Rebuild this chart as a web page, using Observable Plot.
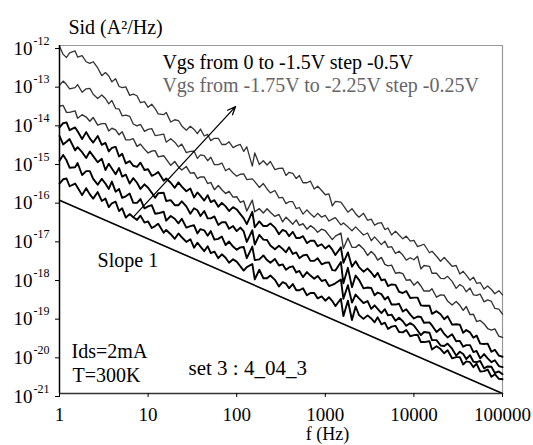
<!DOCTYPE html>
<html><head><meta charset="utf-8">
<script src="https://cdn.jsdelivr.net/npm/d3@7"></script>
<script src="https://cdn.jsdelivr.net/npm/@observablehq/plot@0.6"></script>
<style>html,body{margin:0;padding:0;background:#fff}</style>
</head><body><div id="chart"></div>
<script>
// Frequencies (Hz)
const freq = [
1,1.1,1.2,1.3,1.5,1.6,1.8,2,2.2,2.4,2.7,3,3.3,3.6,3.9,4.3,4.7,5.1,5.6,6.2,6.8,7.5,8.2,9.1,
10,11,12,13,15,16,18,20,22,24,27,30,33,36,39,43,47,51,56,62,68,75,82,91,
100,110,120,130,150,160,180,200,220,240,270,300,330,360,390,430,470,510,560,620,680,750,820,910,
1000,1100,1200,1300,1500,1600,1800,2000,2200,2400,2700,3000,3300,3600,3900,4300,4700,5100,5600,6200,6800,7500,8200,9100,
10000,11000,12000,13000,15000,16000,18000,20000,22000,24000,27000,30000,33000,36000,39000,43000,47000,51000,56000,62000,68000,75000,82000,91000,
100000];

// Sid spectra, log10(A^2/Hz) (top to bottom)
const sid1 = [
-12.02,-12.23,-12.31,-12.19,-12.14,-12.30,-12.26,-12.42,-12.46,-12.42,-12.58,-12.78,-12.70,-12.79,-12.94,-12.86,-13.06,-13.09,-13.07,-13.29,-13.26,-13.30,-13.48,-13.45,
-13.60,-13.52,-13.63,-13.77,-13.79,-13.73,-13.98,-13.92,-13.94,-14.08,-14.19,-14.09,-14.17,-14.28,-14.16,-14.34,-14.30,-14.46,-14.40,-14.40,-14.56,-14.56,-14.49,-14.64,
-14.59,-14.56,-14.74,-14.62,-15.12,-14.78,-15.08,-14.98,-15.09,-15.00,-15.21,-15.18,-15.17,-15.36,-15.28,-15.31,-15.44,-15.36,-15.55,-15.55,-15.51,-15.71,-15.64,-15.75,
-15.86,-15.84,-16.15,-16.03,-16.05,-16.14,-16.31,-16.22,-16.35,-16.44,-16.34,-16.52,-16.49,-16.65,-16.60,-16.58,-16.76,-16.72,-16.90,-16.80,-16.90,-17.00,-16.93,-17.06,
-17.04,-17.20,-17.17,-17.14,-17.36,-17.32,-17.45,-17.58,-17.48,-17.58,-17.71,-17.69,-17.91,-17.84,-17.94,-18.07,-17.99,-18.15,-18.13,-18.30,-18.22,-18.31,-18.42,-18.34,
-18.45];
const sid2 = [
-13.03,-12.92,-13.01,-13.12,-13.09,-13.01,-13.21,-13.12,-13.11,-13.26,-13.37,-13.28,-13.37,-13.51,-13.42,-13.63,-13.64,-13.82,-13.80,-13.83,-14.03,-14.08,-14.04,-14.22,
-14.17,-14.15,-14.33,-14.32,-14.29,-14.50,-14.41,-14.50,-14.62,-14.55,-14.77,-14.74,-14.73,-14.92,-14.83,-14.85,-14.98,-14.89,-15.08,-15.08,-15.04,-15.24,-15.18,-15.30,
-15.38,-15.33,-15.32,-15.47,-15.45,-15.52,-15.67,-15.57,-15.71,-15.81,-15.75,-15.94,-15.93,-16.09,-16.04,-16.04,-16.22,-16.19,-16.36,-16.25,-16.35,-16.44,-16.34,-16.44,
-16.39,-16.54,-16.49,-16.45,-16.64,-16.59,-16.69,-16.79,-16.69,-16.78,-16.90,-16.85,-17.05,-16.95,-17.04,-17.15,-17.06,-17.22,-17.20,-17.38,-17.32,-17.42,-17.55,-17.49,
-17.54,-17.45,-17.78,-17.69,-17.71,-17.89,-17.89,-18.02,-18.03,-17.97,-18.10,-18.28,-18.18,-18.24,-18.37,-18.27,-18.45,-18.46,-18.43,-18.63,-18.58,-18.62,-18.80,-18.82,
-18.95];
const sid3 = [
-13.57,-13.55,-13.73,-13.73,-13.69,-13.88,-13.79,-13.85,-13.96,-13.86,-14.06,-14.02,-14.02,-14.21,-14.14,-14.18,-14.31,-14.23,-14.44,-14.44,-14.41,-14.61,-14.55,-14.68,
-14.78,-14.73,-14.72,-14.88,-14.85,-14.94,-15.10,-15.00,-15.14,-15.22,-15.13,-15.30,-15.29,-15.44,-15.40,-15.40,-15.57,-15.54,-15.73,-15.62,-15.73,-15.83,-15.77,-15.92,
-15.91,-16.06,-16.02,-16.28,-16.00,-16.30,-16.22,-16.33,-16.22,-16.31,-16.42,-16.37,-16.56,-16.44,-16.52,-16.62,-16.51,-16.65,-16.61,-16.75,-16.66,-16.73,-16.83,-16.75,
-16.79,-16.91,-17.02,-16.93,-16.85,-17.25,-16.98,-17.22,-17.22,-17.15,-17.26,-17.43,-17.33,-17.41,-17.55,-17.48,-17.66,-17.70,-17.68,-17.89,-17.87,-17.90,-18.07,-18.06,
-18.20,-18.11,-18.22,-18.35,-18.35,-18.29,-18.51,-18.45,-18.46,-18.61,-18.71,-18.62,-18.72,-18.85,-18.75,-18.96,-18.95,-19.14,-19.11,-19.20,-19.32,-19.36,-19.33,-19.52,
-19.55];
const sid4 = [
-14.12,-14.01,-13.99,-14.19,-14.12,-14.22,-14.42,-14.24,-14.40,-14.51,-14.34,-14.57,-14.52,-14.74,-14.65,-14.62,-14.87,-14.80,-15.05,-14.99,-15.11,-15.14,-15.03,-15.22,
-15.20,-15.37,-15.33,-15.27,-15.50,-15.44,-15.55,-15.68,-15.54,-15.65,-15.77,-15.70,-15.93,-15.80,-15.89,-16.01,-15.87,-16.05,-16.00,-16.17,-16.07,-16.16,-16.28,-16.18,
-16.24,-16.36,-16.47,-16.62,-16.30,-16.70,-16.55,-16.67,-16.67,-16.60,-16.71,-16.88,-16.77,-16.81,-16.93,-16.82,-16.98,-16.98,-16.93,-17.11,-17.05,-17.05,-17.19,-17.14,
-17.25,-17.17,-17.28,-17.42,-17.22,-17.62,-17.35,-17.72,-17.58,-17.73,-17.85,-17.77,-17.87,-17.99,-17.88,-18.07,-18.05,-18.22,-18.18,-18.19,-18.37,-18.40,-18.35,-18.53,
-18.52,-18.52,-18.72,-18.73,-18.73,-18.94,-18.87,-18.95,-19.08,-19.00,-19.22,-19.21,-19.22,-19.43,-19.36,-19.42,-19.56,-19.50,-19.71,-19.72,-19.71,-19.92,-19.87,-20.02,
-20.05];
const sid5 = [
-14.34,-14.56,-14.49,-14.42,-14.71,-14.63,-14.76,-14.91,-14.74,-14.86,-15.02,-14.93,-15.22,-15.06,-15.18,-15.33,-15.17,-15.39,-15.34,-15.57,-15.43,-15.55,-15.71,-15.59,
-15.68,-15.81,-15.94,-15.82,-15.81,-16.02,-16.00,-16.13,-16.13,-16.03,-16.16,-16.35,-16.21,-16.26,-16.41,-16.28,-16.47,-16.47,-16.42,-16.64,-16.57,-16.57,-16.74,-16.67,
-16.80,-16.71,-16.81,-17.08,-16.78,-17.15,-16.90,-17.02,-17.03,-17.17,-17.27,-17.18,-17.26,-17.35,-17.22,-17.39,-17.35,-17.50,-17.43,-17.41,-17.57,-17.57,-17.50,-17.66,
-17.62,-17.61,-17.81,-17.82,-17.60,-18.15,-17.75,-18.25,-17.95,-18.06,-18.28,-18.26,-18.27,-18.46,-18.39,-18.43,-18.57,-18.50,-18.70,-18.70,-18.68,-18.88,-18.82,-18.96,
-19.06,-19.01,-19.02,-19.17,-19.16,-19.24,-19.41,-19.32,-19.46,-19.55,-19.47,-19.65,-19.64,-19.79,-19.75,-19.75,-19.93,-19.90,-20.09,-19.98,-20.09,-20.19,-20.14,-20.29,
-20.32];
const sid6 = [
-14.98,-14.83,-14.97,-15.16,-15.15,-15.04,-15.35,-15.25,-15.25,-15.45,-15.60,-15.45,-15.57,-15.71,-15.52,-15.78,-15.71,-15.94,-15.90,-15.83,-16.07,-16.07,-15.97,-16.21,
-16.16,-16.13,-16.35,-16.34,-16.30,-16.53,-16.41,-16.48,-16.60,-16.48,-16.71,-16.67,-16.65,-16.86,-16.75,-16.78,-16.92,-16.80,-17.02,-17.00,-16.94,-17.16,-17.07,-17.20,
-17.28,-17.22,-17.21,-17.50,-17.20,-17.55,-17.53,-17.43,-17.55,-17.62,-17.52,-17.69,-17.66,-17.80,-17.74,-17.71,-17.87,-17.83,-17.99,-17.86,-17.95,-18.03,-17.96,-18.09,
-18.06,-18.22,-18.19,-18.15,-18.05,-18.55,-18.20,-18.65,-18.44,-18.54,-18.66,-18.61,-18.81,-18.72,-18.81,-18.92,-18.82,-18.98,-18.96,-19.12,-19.04,-19.13,-19.25,-19.18,
-19.24,-19.37,-19.49,-19.41,-19.43,-19.62,-19.62,-19.76,-19.77,-19.71,-19.84,-20.02,-19.92,-19.98,-20.11,-20.01,-20.18,-20.19,-20.16,-20.35,-20.30,-20.31,-20.47,-20.43,
-20.50];
const sid7 = [
-15.57,-15.46,-15.44,-15.64,-15.57,-15.67,-15.87,-15.69,-15.85,-15.96,-15.79,-16.02,-15.96,-16.18,-16.08,-16.04,-16.28,-16.21,-16.45,-16.36,-16.44,-16.51,-16.40,-16.58,
-16.55,-16.72,-16.67,-16.61,-16.84,-16.77,-16.88,-17.00,-16.86,-16.96,-17.08,-17.01,-17.23,-17.10,-17.20,-17.32,-17.19,-17.37,-17.33,-17.50,-17.40,-17.49,-17.62,-17.53,
-17.59,-17.71,-17.82,-17.73,-17.65,-18.05,-17.80,-18.02,-18.02,-17.95,-18.06,-18.23,-18.12,-18.16,-18.28,-18.17,-18.33,-18.33,-18.28,-18.46,-18.40,-18.40,-18.54,-18.49,
-18.60,-18.51,-18.61,-18.74,-18.55,-19.00,-18.60,-19.10,-18.75,-18.97,-19.07,-18.98,-19.06,-19.16,-19.03,-19.21,-19.17,-19.33,-19.27,-19.25,-19.41,-19.42,-19.36,-19.52,
-19.49,-19.48,-19.67,-19.67,-19.65,-19.86,-19.78,-19.85,-19.96,-19.88,-20.09,-20.06,-20.06,-20.25,-20.17,-20.19,-20.32,-20.23,-20.43,-20.42,-20.38,-20.57,-20.50,-20.62,
-20.63];

// Slope-1 reference line (f, log10 Sid)
const slopeF = [1, 100000];
const slopeE = [-16, -21];

// Arrow (f, log10 Sid)
const arrowF = [6.8, 97];
const arrowE = [-16.44, -13.58];

// Axis ticks
const xTicks = [1, 10, 100, 1000, 10000, 100000];
const yExps = [-21, -20, -19, -18, -17, -16, -15, -14, -13, -12];

// Annotations (text, f, log10 Sid at baseline)
const noteText = ["Sid (A²/Hz)", "Vgs from 0 to -1.5V step -0.5V", "Vgs from -1.75V to -2.25V step -0.25V", "Slope 1", "Ids=2mA", "T=300K", "set 3 : 4_04_3", "f (Hz)"];
const noteF = [1.26, 14.5, 14.5, 2.69, 1.37, 1.4, 28.6, 1060];
const noteE = [-11.69, -12.62, -13.215, -17.74, -20.07, -20.69, -20.53, -22.19];

// styles
const curves = [sid1, sid2, sid3, sid4, sid5, sid6, sid7];
const curveColor = ["#333", "#333", "#333", "#000", "#000", "#000", "#000"];
const curveWidth = [1.3, 1.3, 1.4, 1.9, 1.9, 1.9, 1.9];
const noteSize = [20, 20, 20, 20, 20, 20, 21, 18];
const noteColor = ["#000", "#000", "#666", "#000", "#000", "#000", "#000", "#000"];
const noteAnchor = ["start", "start", "start", "start", "start", "start", "start", "middle"];

const marks = [];
marks.push(Plot.ruleY([1e-12], {stroke: "#999", strokeWidth: 1.2}));
marks.push(Plot.ruleX([1e5], {stroke: "#999", strokeWidth: 1.2}));
curves.forEach((c, i) => {
  const rows = freq.map((f, j) => ({f, s: Math.pow(10, c[j])}));
  marks.push(Plot.line(rows, {x: "f", y: "s", stroke: curveColor[i], strokeWidth: curveWidth[i], strokeLinejoin: "round"}));
});
marks.push(Plot.line(slopeF.map((f, j) => ({f, s: Math.pow(10, slopeE[j])})), {x: "f", y: "s", stroke: "#000", strokeWidth: 1.6}));
marks.push(Plot.arrow([0], {x1: () => arrowF[0], y1: () => Math.pow(10, arrowE[0]), x2: () => arrowF[1], y2: () => Math.pow(10, arrowE[1]), stroke: "#000", strokeWidth: 1.3, headLength: 10, headAngle: 45}));
marks.push(Plot.ruleX([1], {stroke: "#000", strokeWidth: 1.5}));
marks.push(Plot.ruleY([1e-21], {stroke: "#333", strokeWidth: 1.5}));
marks.push(Plot.axisX({ticks: xTicks, tickFormat: d => String(d), tickSize: 4, tickPadding: 10, fontSize: 19, label: null}));
marks.push(Plot.axisY({ticks: yExps.map(e => Math.pow(10, e)), tickFormat: () => "10", tickSize: 4, tickPadding: 23, fontSize: 19, dy: 3, label: null}));
marks.push(Plot.text(yExps, {x: () => 1, y: e => Math.pow(10, e), text: e => String(e), textAnchor: "start", lineAnchor: "bottom", dx: -26, dy: -1, fontSize: 12}));
noteText.forEach((t, i) => {
  marks.push(Plot.text([t], {x: () => noteF[i], y: () => Math.pow(10, noteE[i]), text: d => d, textAnchor: noteAnchor[i], lineAnchor: "bottom", fontSize: noteSize[i], fill: noteColor[i]}));
});

const chart = Plot.plot({
  width: 533,
  height: 445,
  marginLeft: 59,
  marginRight: 31,
  marginTop: 45,
  marginBottom: 52,
  style: {fontFamily: "'Liberation Serif', 'Times New Roman', serif", background: "#fff", color: "#000", overflow: "visible"},
  x: {type: "log", domain: [1, 1e5]},
  y: {type: "log", domain: [1e-21, 1e-12]},
  marks
});
document.getElementById("chart").append(chart);
</script></body></html>
